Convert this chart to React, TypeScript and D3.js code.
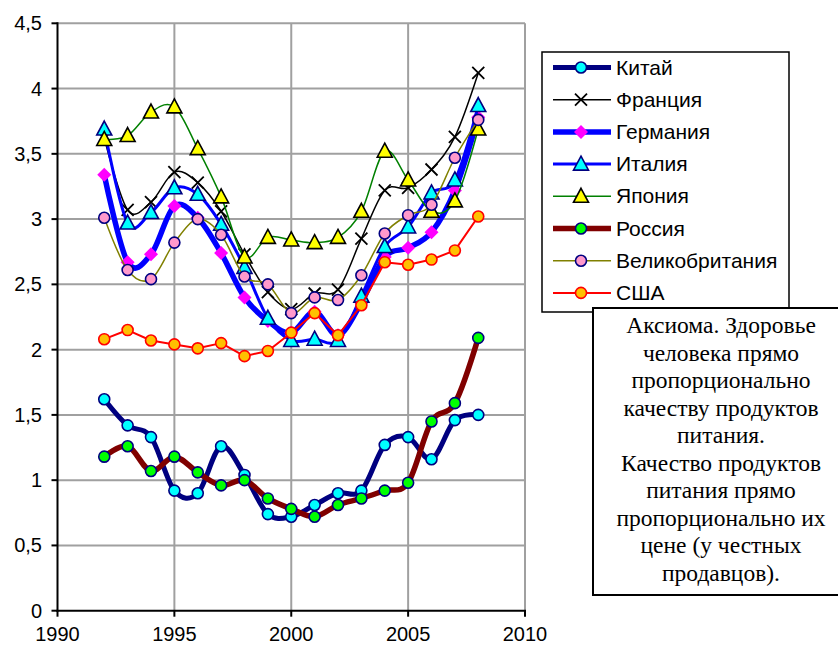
import React from "react";
import * as d3 from "d3";

const years = [1992,1993,1994,1995,1996,1997,1998,1999,2000,2001,2002,2003,2004,2005,2006,2007,2008];
const china = [1.62,1.42,1.33,0.92,0.90,1.26,1.04,0.74,0.72,0.81,0.90,0.92,1.27,1.33,1.16,1.46,1.50];
const france = [3.62,3.07,3.13,3.36,3.28,3.06,2.73,2.44,2.31,2.43,2.46,2.85,3.22,3.24,3.38,3.63,4.12];
const germany = [3.34,2.67,2.73,3.10,3.01,2.74,2.40,2.22,2.13,2.29,2.11,2.36,2.71,2.78,2.90,3.22,3.78];
const italy = [3.69,2.97,3.05,3.24,3.19,2.96,2.63,2.24,2.07,2.08,2.07,2.41,2.79,2.94,3.20,3.30,3.87];
const japan = [3.61,3.64,3.82,3.86,3.54,3.17,2.71,2.86,2.84,2.82,2.86,3.06,3.52,3.30,3.06,3.14,3.69];
const russia = [1.18,1.26,1.07,1.18,1.06,0.96,1.00,0.86,0.78,0.72,0.81,0.86,0.92,0.98,1.45,1.59,2.09];
const uk = [3.01,2.61,2.54,2.82,3.00,2.88,2.56,2.50,2.28,2.40,2.38,2.57,2.89,3.03,3.11,3.47,3.76];
const usa = [2.08,2.15,2.07,2.04,2.01,2.05,1.95,1.99,2.13,2.28,2.11,2.34,2.67,2.65,2.69,2.76,3.02];

const seriesNames = ["Китай","Франция","Германия","Италия","Япония","Россия","Великобритания","США"];
const xTicks = [1990,1995,2000,2005,2010];
const yTicks = [0,0.5,1,1.5,2,2.5,3,3.5,4,4.5];
const noteLines = [
  "Аксиома. Здоровье",
  "человека прямо",
  "пропорционально",
  "качеству продуктов",
  "питания.",
  "Качество продуктов",
  "питания прямо",
  "пропорционально их",
  "цене (у честных",
  "продавцов).",
];

type Style = {
  stroke: string; width: number; smooth: boolean;
  marker: "circle" | "x" | "diamond" | "triangle";
  fill: string; mstroke: string;
};

const styles: Style[] = [
  { stroke: "#000080", width: 5, smooth: true, marker: "circle", fill: "#00FFFF", mstroke: "#000080" },
  { stroke: "#000000", width: 1.5, smooth: true, marker: "x", fill: "none", mstroke: "#000000" },
  { stroke: "#0000FF", width: 5.5, smooth: true, marker: "diamond", fill: "#FF00FF", mstroke: "none" },
  { stroke: "#0000FF", width: 3, smooth: true, marker: "triangle", fill: "#00FFFF", mstroke: "#000080" },
  { stroke: "#008000", width: 1.5, smooth: true, marker: "triangle", fill: "#FFFF00", mstroke: "#000000" },
  { stroke: "#800000", width: 5.5, smooth: true, marker: "circle", fill: "#00FF00", mstroke: "#000080" },
  { stroke: "#808000", width: 1.5, smooth: true, marker: "circle", fill: "#FF99CC", mstroke: "#000080" },
  { stroke: "#FF0000", width: 2, smooth: false, marker: "circle", fill: "#FFC000", mstroke: "#FF0000" },
];

const allData = [china, france, germany, italy, japan, russia, uk, usa];

function Marker({ s, x, y }: { s: Style; x: number; y: number }) {
  if (s.marker === "circle") {
    return <circle cx={x} cy={y} r={5.5} fill={s.fill} stroke={s.mstroke} strokeWidth={1.6} />;
  }
  if (s.marker === "diamond") {
    const r = 7;
    return <path d={`M${x},${y - r}L${x + r},${y}L${x},${y + r}L${x - r},${y}Z`} fill={s.fill} />;
  }
  if (s.marker === "triangle") {
    const h = 7;
    return <path d={`M${x},${y - h - 1}L${x + h + 0.5},${y + h - 1}L${x - h - 0.5},${y + h - 1}Z`} fill={s.fill} stroke={s.mstroke} strokeWidth={1.6} strokeLinejoin="miter" />;
  }
  const r = 6;
  return <path d={`M${x - r},${y - r}L${x + r},${y + r}M${x - r},${y + r}L${x + r},${y - r}`} stroke={s.mstroke} strokeWidth={1.8} fill="none" />;
}

export default function App() {
  const x = d3.scaleLinear().domain([1990, 2010]).range([57.5, 525]);
  const y = d3.scaleLinear().domain([0, 4.5]).range([610.7, 23.3]);

  const smoothLine = d3.line<number>()
    .x((_, i) => x(years[i]))
    .y((d) => y(d))
    .curve(d3.curveCatmullRom.alpha(0));
  const straightLine = d3.line<number>()
    .x((_, i) => x(years[i]))
    .y((d) => y(d));

  const axisFont = "'Liberation Sans', Arial, sans-serif";
  const legX = 542, legY = 52, legW = 247, legH = 260;
  const rowY = (i: number) => 67.5 + i * 32.2;

  return (
    <svg width={838} height={645} style={{ position: "absolute", left: 0, top: 0, background: "#fff" }}>
      <rect x={0} y={0} width={838} height={645} fill="#fff" />
      {yTicks.filter((t) => t > 0).map((t) => (
        <line key={"gy" + t} x1={x(1990)} x2={x(2010)} y1={y(t)} y2={y(t)} stroke="#A0A0A0" strokeWidth={2} />
      ))}
      {xTicks.filter((t) => t > 1990).map((t) => (
        <line key={"gx" + t} x1={x(t)} x2={x(t)} y1={y(4.5)} y2={y(0)} stroke="#A0A0A0" strokeWidth={2} />
      ))}
      <line x1={x(1990)} x2={x(1990)} y1={y(4.5) - 1} y2={y(0) + 1} stroke="#000" strokeWidth={2} />
      <line x1={x(1990) - 1} x2={x(2010) + 1} y1={y(0)} y2={y(0)} stroke="#000" strokeWidth={2} />
      {yTicks.map((t) => (
        <g key={"yt" + t}>
          <line x1={x(1990) - 6} x2={x(1990)} y1={y(t)} y2={y(t)} stroke="#000" strokeWidth={2} />
          <text x={42} y={y(t) + 7} textAnchor="end" fontFamily={axisFont} fontSize={20} fill="#000">
            {String(t).replace(".", ",")}
          </text>
        </g>
      ))}
      {xTicks.map((t) => (
        <g key={"xt" + t}>
          <line x1={x(t)} x2={x(t)} y1={y(0)} y2={y(0) + 6} stroke="#000" strokeWidth={2} />
          <text x={x(t)} y={641} textAnchor="middle" fontFamily={axisFont} fontSize={20} fill="#000">
            {t}
          </text>
        </g>
      ))}
      {allData.map((data, si) => {
        const s = styles[si];
        const d = (s.smooth ? smoothLine : straightLine)(data) || "";
        return (
          <g key={"s" + si}>
            <path d={d} fill="none" stroke={s.stroke} strokeWidth={s.width} strokeLinejoin="round" strokeLinecap="round" />
            {data.map((v, i) => (
              <Marker key={i} s={s} x={x(years[i])} y={y(v)} />
            ))}
          </g>
        );
      })}
      <rect x={legX} y={legY} width={legW} height={legH} fill="#fff" stroke="#000" strokeWidth={1.5} />
      {seriesNames.map((name, i) => {
        const s = styles[i];
        const yy = rowY(i);
        return (
          <g key={"lg" + i}>
            <line x1={553} x2={611} y1={yy} y2={yy} stroke={s.stroke} strokeWidth={s.width} />
            <Marker s={s} x={581} y={yy} />
            <text x={616} y={yy + 7} fontFamily={axisFont} fontSize={21} fill="#000">{name}</text>
          </g>
        );
      })}
      <rect x={593} y={308} width={260} height={287} fill="#fff" stroke="#000" strokeWidth={2} />
      {noteLines.map((line, i) => (
        <text key={"n" + i} x={721} y={333 + i * 27.5} textAnchor="middle"
          fontFamily="'Liberation Serif', 'Times New Roman', serif" fontSize={23.5} fill="#000">
          {line}
        </text>
      ))}
    </svg>
  );
}
